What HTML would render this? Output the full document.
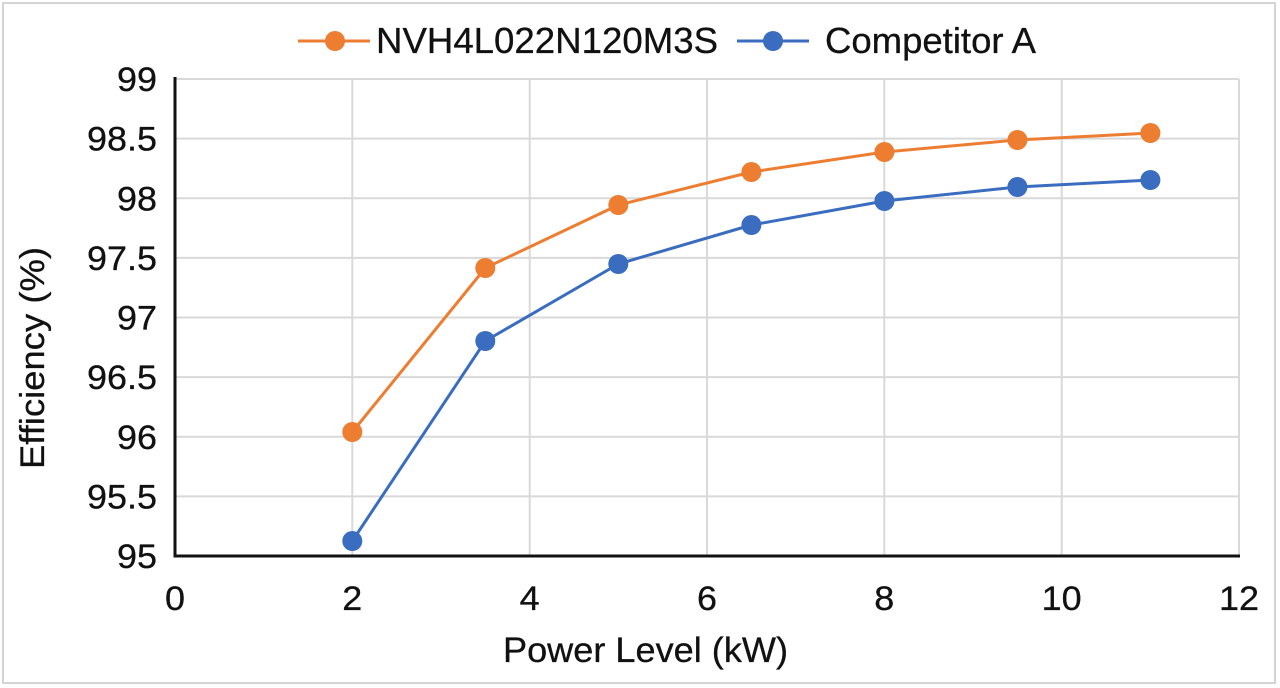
<!DOCTYPE html>
<html><head><meta charset="utf-8"><style>
html,body{margin:0;padding:0;background:#fff;}
svg{display:block;}
text{font-family:"Liberation Sans",Arial,sans-serif;fill:#111;stroke:#111;stroke-width:0.3;}
</style></head><body>
<svg width="1280" height="688" viewBox="0 0 1280 688" xmlns="http://www.w3.org/2000/svg">
<rect x="0" y="0" width="1280" height="688" fill="#fff"/>
<rect x="3" y="3" width="1272" height="680" fill="#fff" stroke="#d4d4d4" stroke-width="2"/>
<g stroke="#d9d9d9" stroke-width="2">
<line x1="175" y1="79" x2="1239" y2="79"/>
<line x1="175" y1="138.6" x2="1239" y2="138.6"/>
<line x1="175" y1="198.3" x2="1239" y2="198.3"/>
<line x1="175" y1="257.9" x2="1239" y2="257.9"/>
<line x1="175" y1="317.5" x2="1239" y2="317.5"/>
<line x1="175" y1="377.1" x2="1239" y2="377.1"/>
<line x1="175" y1="436.8" x2="1239" y2="436.8"/>
<line x1="175" y1="496.4" x2="1239" y2="496.4"/>
<line x1="352.3" y1="79" x2="352.3" y2="556"/>
<line x1="529.7" y1="79" x2="529.7" y2="556"/>
<line x1="707" y1="79" x2="707" y2="556"/>
<line x1="884.3" y1="79" x2="884.3" y2="556"/>
<line x1="1061.7" y1="79" x2="1061.7" y2="556"/>
<line x1="1239" y1="79" x2="1239" y2="556"/>
</g>
<g stroke="#111" stroke-width="3">
<line x1="175" y1="77" x2="175" y2="557.5"/>
<line x1="173.5" y1="556" x2="1240" y2="556"/>
</g>
<g font-size="34" text-anchor="end" lengthAdjust="spacingAndGlyphs">
<text x="157" y="91" textLength="40" lengthAdjust="spacingAndGlyphs">99</text>
<text x="157" y="150.6" textLength="70" lengthAdjust="spacingAndGlyphs">98.5</text>
<text x="157" y="210.3" textLength="40" lengthAdjust="spacingAndGlyphs">98</text>
<text x="157" y="269.9" textLength="70" lengthAdjust="spacingAndGlyphs">97.5</text>
<text x="157" y="329.5" textLength="40" lengthAdjust="spacingAndGlyphs">97</text>
<text x="157" y="389.1" textLength="70" lengthAdjust="spacingAndGlyphs">96.5</text>
<text x="157" y="448.8" textLength="40" lengthAdjust="spacingAndGlyphs">96</text>
<text x="157" y="508.4" textLength="70" lengthAdjust="spacingAndGlyphs">95.5</text>
<text x="157" y="568" textLength="40" lengthAdjust="spacingAndGlyphs">95</text>
</g>
<g font-size="34" text-anchor="middle">
<text x="175" y="610" textLength="20" lengthAdjust="spacingAndGlyphs">0</text>
<text x="352.3" y="610" textLength="20" lengthAdjust="spacingAndGlyphs">2</text>
<text x="529.7" y="610" textLength="20" lengthAdjust="spacingAndGlyphs">4</text>
<text x="707" y="610" textLength="20" lengthAdjust="spacingAndGlyphs">6</text>
<text x="884.3" y="610" textLength="20" lengthAdjust="spacingAndGlyphs">8</text>
<text x="1061.7" y="610" textLength="40" lengthAdjust="spacingAndGlyphs">10</text>
<text x="1239" y="610" textLength="40" lengthAdjust="spacingAndGlyphs">12</text>
</g>
<text x="503" y="662" font-size="35" textLength="285" lengthAdjust="spacingAndGlyphs">Power Level (kW)</text>
<text transform="translate(44,358) rotate(-90)" font-size="34" text-anchor="middle" textLength="222" lengthAdjust="spacingAndGlyphs">Efficiency (%)</text>
<!-- series -->
<polyline fill="none" stroke="#ED7D31" stroke-width="3" stroke-linejoin="round" points="352.3,432 485.3,268 618.3,205 751.4,172 884.4,152 1017.4,140 1150.4,133"/>
<polyline fill="none" stroke="#3A6DC0" stroke-width="3" stroke-linejoin="round" points="352.3,541 485.3,341 618.3,264 751.4,225 884.4,201 1017.4,187 1150.4,180"/>
<g fill="#ED7D31">
<circle cx="352.3" cy="432" r="10"/>
<circle cx="485.3" cy="268" r="10"/>
<circle cx="618.3" cy="205" r="10"/>
<circle cx="751.4" cy="172" r="10"/>
<circle cx="884.4" cy="152" r="10"/>
<circle cx="1017.4" cy="140" r="10"/>
<circle cx="1150.4" cy="133" r="10"/>
</g>
<g fill="#3A6DC0">
<circle cx="352.3" cy="541" r="10"/>
<circle cx="485.3" cy="341" r="10"/>
<circle cx="618.3" cy="264" r="10"/>
<circle cx="751.4" cy="225" r="10"/>
<circle cx="884.4" cy="201" r="10"/>
<circle cx="1017.4" cy="187" r="10"/>
<circle cx="1150.4" cy="180" r="10"/>
</g>
<!-- legend -->
<line x1="298" y1="41" x2="370" y2="41" stroke="#ED7D31" stroke-width="3"/>
<circle cx="335" cy="41" r="10" fill="#ED7D31"/>
<text x="376" y="53" font-size="36" textLength="342" lengthAdjust="spacingAndGlyphs">NVH4L022N120M3S</text>
<line x1="737" y1="41" x2="809" y2="41" stroke="#3A6DC0" stroke-width="3"/>
<circle cx="773" cy="41" r="10" fill="#3A6DC0"/>
<text x="825" y="53" font-size="36" textLength="211" lengthAdjust="spacingAndGlyphs">Competitor A</text>
</svg>
</body></html>
